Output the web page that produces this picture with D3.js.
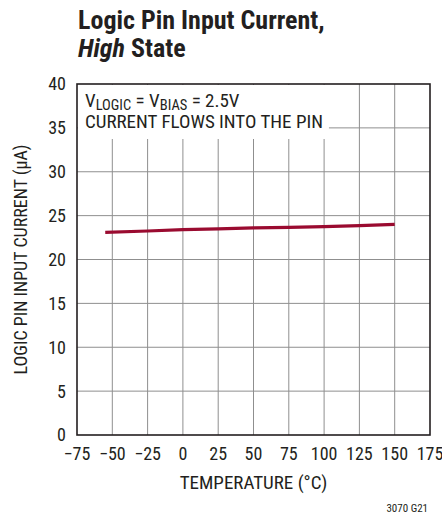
<!DOCTYPE html>
<html>
<head>
<meta charset="utf-8">
<script src="https://cdn.jsdelivr.net/npm/d3@7"></script>
<style>
  html, body { margin: 0; padding: 0; background: #fff; }
  svg { display: block; font-family: "Liberation Sans Narrow", "Arial Narrow", "Roboto Condensed", "DejaVu Sans Condensed", sans-serif; }
</style>
</head>
<body>
<svg id="chart" width="442" height="517"></svg>
<script>
// ---- data ----
const temperature = [-55, -25, 0, 25, 50, 75, 100, 125, 150];
const currentHigh = [23.1, 23.25, 23.4, 23.5, 23.6, 23.65, 23.75, 23.85, 24.0];
const xTicks = [-75, -50, -25, 0, 25, 50, 75, 100, 125, 150, 175];
const yTicks = [0, 5, 10, 15, 20, 25, 30, 35, 40];

const svg = d3.select("#chart");
const margin = { left: 77, right: 12, top: 84, bottom: 82 };
const W = 442, H = 517;

const x = d3.scaleLinear().domain([-75, 175]).range([margin.left, W - margin.right]);
const y = d3.scaleLinear().domain([0, 40]).range([H - margin.bottom, margin.top]);

// title
const title = svg.append("text").attr("x", 78).attr("font-weight", "bold").attr("font-size", 26).attr("fill", "#231f20");
title.append("tspan").attr("x", 78).attr("y", 29).text("Logic Pin Input Current,");
const t2 = title.append("tspan").attr("x", 78).attr("y", 57);
t2.append("tspan").attr("font-style", "italic").text("High");
t2.append("tspan").text(" State");

// grid
const grid = svg.append("g");
grid.selectAll("line.v").data(xTicks.slice(1, -1)).join("line")
  .attr("x1", d => x(d)).attr("x2", d => x(d))
  .attr("y1", y(0)).attr("y2", y(40))
  .attr("stroke", "#8f8f8f").attr("stroke-width", 1);
grid.selectAll("line.h").data(yTicks.slice(1, -1)).join("line")
  .attr("x1", x(-75)).attr("x2", x(175))
  .attr("y1", d => y(d)).attr("y2", d => y(d))
  .attr("stroke", "#8f8f8f").attr("stroke-width", 1);

// annotation
const ann = svg.append("g");
const bg = ann.append("rect").attr("fill", "#fff");
const annText = ann.append("text").attr("font-size", 19).attr("fill", "#231f20");
const l1 = annText.append("tspan").attr("x", 85).attr("y", 107);
l1.append("tspan").text("V");
l1.append("tspan").attr("font-size", 14.5).attr("dy", 3).text("LOGIC");
l1.append("tspan").attr("dy", -3).text(" = V");
l1.append("tspan").attr("font-size", 14.5).attr("dy", 3).text("BIAS");
l1.append("tspan").attr("dy", -3).text(" = 2.5V");
annText.append("tspan").attr("x", 85).attr("y", 128).text("CURRENT FLOWS INTO THE PIN");
const bb = annText.node().getBBox();
bg.attr("x", x(-75) + 1).attr("y", y(40) + 1)
  .attr("width", bb.x + bb.width + 5 - x(-75))
  .attr("height", bb.y + bb.height + 5 - y(40));

// frame
svg.append("rect")
  .attr("x", x(-75)).attr("y", y(40))
  .attr("width", x(175) - x(-75)).attr("height", y(0) - y(40))
  .attr("fill", "none").attr("stroke", "#231f20").attr("stroke-width", 1.6);

// data line
const line = d3.line().x((d, i) => x(temperature[i])).y(d => y(d));
svg.append("path").datum(currentHigh)
  .attr("d", line).attr("fill", "none")
  .attr("stroke", "#9a0b30").attr("stroke-width", 3.2);

// axes labels
svg.append("g").selectAll("text").data(yTicks).join("text")
  .attr("x", 66).attr("y", d => y(d)).attr("dy", "0.36em")
  .attr("text-anchor", "end").attr("font-size", 18).attr("fill", "#231f20")
  .text(d => d);
svg.append("g").selectAll("text").data(xTicks).join("text")
  .attr("x", d => x(d)).attr("y", 460)
  .attr("text-anchor", "middle").attr("font-size", 18).attr("fill", "#231f20")
  .text(d => d < 0 ? "\u2212" + Math.abs(d) : d);

svg.append("text").attr("x", (x(-75) + x(175)) / 2).attr("y", 489)
  .attr("text-anchor", "middle").attr("font-size", 19).attr("fill", "#231f20")
  .text("TEMPERATURE (°C)");
svg.append("text")
  .attr("transform", `translate(27,${(y(0) + y(40)) / 2}) rotate(-90)`)
  .attr("text-anchor", "middle").attr("font-size", 18).attr("fill", "#231f20")
  .text("LOGIC PIN INPUT CURRENT (µA)");
svg.append("text").attr("x", 428).attr("y", 512)
  .attr("text-anchor", "end").attr("font-size", 11).attr("fill", "#231f20")
  .text("3070 G21");
</script>
</body>
</html>
